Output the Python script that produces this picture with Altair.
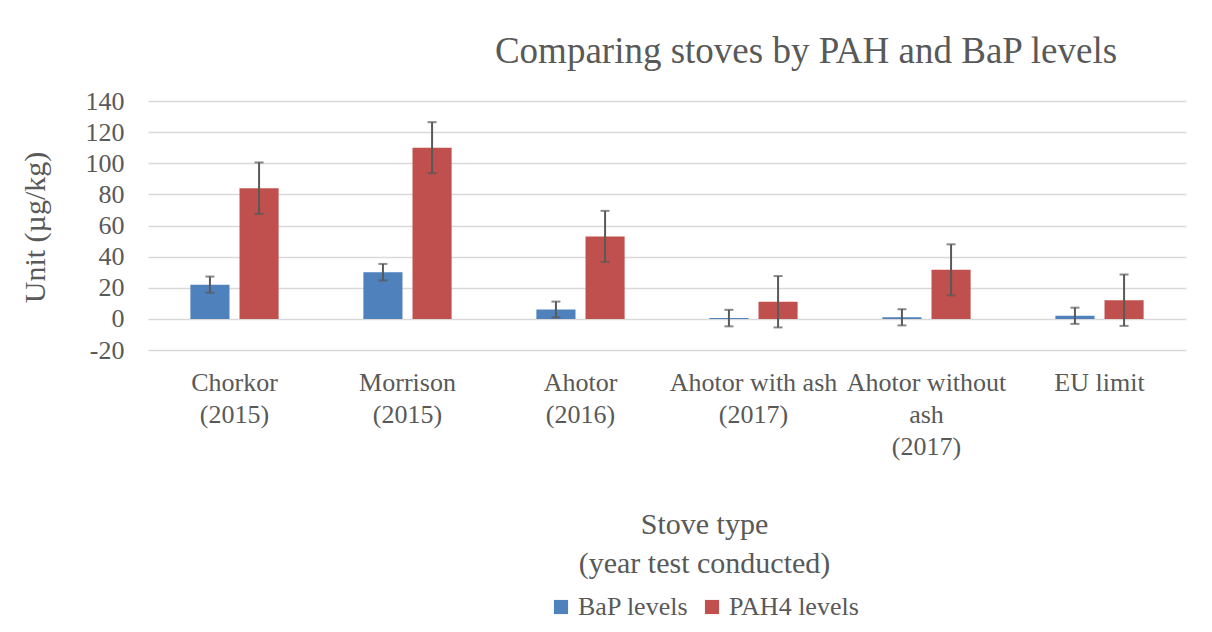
import altair as alt
import pandas as pd

categories = ["Chorkor\n(2015)", "Morrison\n(2015)", "Ahotor\n(2016)",
              "Ahotor with ash\n(2017)", "Ahotor without\nash\n(2017)", "EU limit"]
series = ["BaP levels", "PAH4 levels"]
bap_values = [22, 30, 6, 0.5, 1, 2]
pah4_values = [84, 110, 53, 11, 31.5, 12]
bap_errors = [5.2, 5.3, 5.1, 5.3, 5.2, 5.2]
pah4_errors = [16.5, 16.4, 16.4, 16.5, 16.4, 16.5]
y_ticks = [-20, 0, 20, 40, 60, 80, 100, 120, 140]
colors = ["#4F81BD", "#C0504D"]

rows = []
for i, c in enumerate(categories):
    rows.append({"cat": c, "series": series[0], "value": bap_values[i], "err": bap_errors[i]})
    rows.append({"cat": c, "series": series[1], "value": pah4_values[i], "err": pah4_errors[i]})
df = pd.DataFrame(rows)
df["lo"] = df["value"] - df["err"]
df["hi"] = df["value"] + df["err"]

FONT = "Liberation Serif"
GRAY = "#595959"

x_axis = alt.Axis(labelExpr="split(datum.label, '\\n')", labelAngle=0,
                  labelFont=FONT, labelFontSize=26, labelColor=GRAY,
                  labelLineHeight=32, labelPadding=19, labelLimit=400,
                  labelOverlap=False, labelBaseline="top",
                  ticks=False, domain=False, grid=False,
                  titleFont=FONT, titleFontSize=30, titleFontWeight="normal",
                  titleColor=GRAY, titleLineHeight=39,
                  titleX=556, titleY=183, titleBaseline="alphabetic",
                  titleAlign="center")
x = alt.X("cat:N", sort=categories, title=["Stove type", "(year test conducted)"],
          scale=alt.Scale(paddingInner=0.49, paddingOuter=0.245), axis=x_axis)
xo = alt.XOffset("series:N", sort=series, scale=alt.Scale(paddingInner=0.204, paddingOuter=0))

y_scale = alt.Scale(domain=[-20, 140], nice=False, zero=False)
y_axis = alt.Axis(values=y_ticks, tickCount=9, labelExpr="toString(datum.value)",
                  labelOverlap=False, labelFont=FONT,
                  labelFontSize=26, labelColor=GRAY, labelPadding=24,
                  ticks=False, domain=False, grid=True, gridColor="#d9d9d9",
                  gridWidth=1.5, titleFont=FONT, titleFontSize=30,
                  titleFontWeight="normal", titleColor=GRAY,
                  titleAngle=270, titleX=-104, titleY=126,
                  titleBaseline="alphabetic", titleAlign="center")
Y_TITLE = "Unit (µg/kg)"

bars = alt.Chart(df).mark_bar().encode(
    x=x,
    xOffset=xo,
    y=alt.Y("value:Q", scale=y_scale, title=Y_TITLE, axis=y_axis),
    color=alt.Color("series:N", sort=series,
                    scale=alt.Scale(domain=series, range=colors),
                    legend=alt.Legend(title=None, orient="none", legendX=400, legendY=493,
                                      direction="horizontal", symbolType="square",
                                      symbolSize=200, symbolStrokeWidth=0,
                                      labelFont=FONT, labelFontSize=26, labelColor=GRAY,
                                      labelOffset=4, columnPadding=10, padding=0)),
)

rules = alt.Chart(df).mark_rule(color=GRAY, strokeWidth=2).encode(
    x=x,
    xOffset=xo,
    y=alt.Y("lo:Q", scale=y_scale, title=Y_TITLE, axis=y_axis),
    y2="hi:Q",
)

caps_hi = alt.Chart(df).mark_tick(color=GRAY, thickness=2, size=9, orient="horizontal").encode(
    x=x,
    xOffset=xo,
    y=alt.Y("hi:Q", scale=y_scale, title=Y_TITLE, axis=y_axis),
)
caps_lo = alt.Chart(df).mark_tick(color=GRAY, thickness=2, size=9, orient="horizontal").encode(
    x=x,
    xOffset=xo,
    y=alt.Y("lo:Q", scale=y_scale, title=Y_TITLE, axis=y_axis),
)

chart = alt.layer(bars, rules, caps_hi, caps_lo).properties(
    width=1038, height=249,
    title=alt.TitleParams("Comparing stoves by PAH and BaP levels", font=FONT,
                          fontSize=37, fontWeight="normal", color=GRAY,
                          anchor="middle", dx=139, dy=50, offset=38, baseline="alphabetic"),
    autosize=alt.AutoSizeParams(type="none"),
    padding={"left": 140, "top": 93, "right": 18, "bottom": 272},
).configure(background="white", view=alt.ViewConfig(stroke=None))

chart.save("out.html", embed_options={"renderer": "svg", "actions": False})
